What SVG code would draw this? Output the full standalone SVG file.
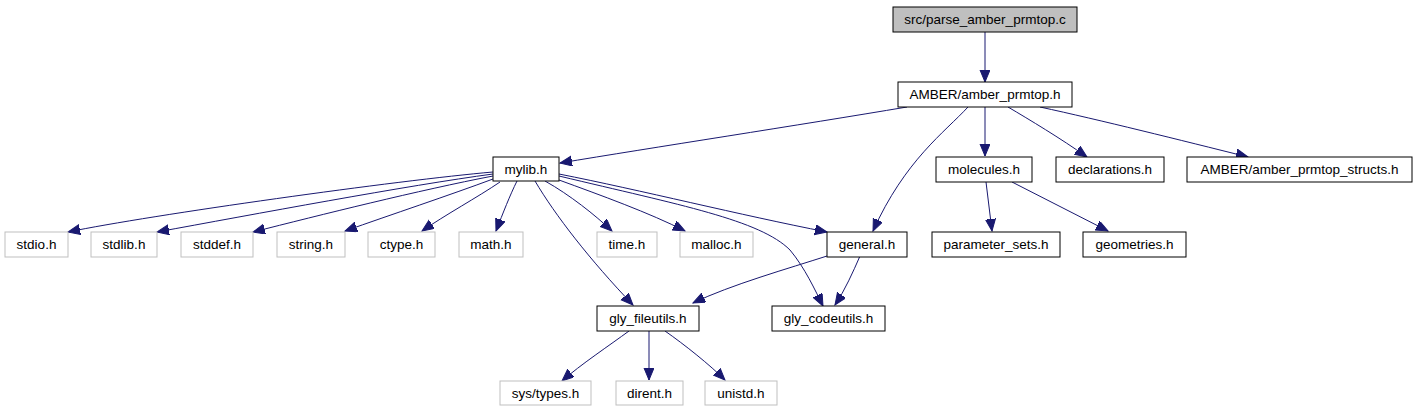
<svg xmlns="http://www.w3.org/2000/svg" width="1416" height="411" viewBox="0 0 1416 411">
<style>
.n rect{fill:#fff;stroke:#000;stroke-width:1}
.g rect{fill:#fff;stroke:#bfbfbf;stroke-width:1}
.r rect{fill:#bfbfbf;stroke:#000;stroke-width:1}
text{font-family:"Liberation Sans",Arial,sans-serif;font-size:13.5px;fill:#000;text-anchor:middle}
#edges path{fill:none;stroke:#191970;stroke-width:1;marker-end:url(#ah)}
</style>
<defs>
<marker id="ah" markerUnits="userSpaceOnUse" markerWidth="13" markerHeight="11" refX="12" refY="5" orient="auto">
<path d="M0,0 L12,5 L0,10 z" fill="#191970" stroke="#191970"/>
</marker>
</defs>
<rect width="1416" height="411" fill="#fff"/>
<g id="edges">
<path d="M985,32 L985,82"/>
<path d="M907,107 C800,125 650,148 560,163"/>
<path d="M968,107 C945,132 905,160 873,231"/>
<path d="M985,107 L985,156"/>
<path d="M1008,107 C1030,120 1060,138 1087,157"/>
<path d="M1040,107 C1100,120 1180,140 1248,157"/>
<path d="M493,172 C400,180 150,215 68,232"/>
<path d="M493,174 C410,185 250,215 157,232"/>
<path d="M493,176 C420,190 320,215 253,232"/>
<path d="M493,179 C450,195 390,215 345,231"/>
<path d="M500,182 C478,197 445,215 422,231"/>
<path d="M517,181 C510,195 503,213 496,231"/>
<path d="M545,181 C570,195 595,215 612,231"/>
<path d="M559,180 C600,195 650,213 685,231"/>
<path d="M559,174 C640,190 740,215 827,232"/>
<path d="M559,176 C680,205 760,220 790,250 C805,268 815,290 823,306"/>
<path d="M535,181 C555,215 590,260 633,305"/>
<path d="M827,256 C790,268 730,285 693,303"/>
<path d="M860,256 C853,272 845,290 835,305"/>
<path d="M986,182 L992,231"/>
<path d="M1012,182 L1108,231"/>
<path d="M629,331 C610,345 580,365 562,381"/>
<path d="M649,331 L649,380"/>
<path d="M665,331 C685,345 710,365 725,380"/>
</g>
<g id="n_parse" class="r"><rect x="893" y="7" width="184" height="25"/><text x="985" y="24">src/parse_amber_prmtop.c</text></g>
<g id="n_amber" class="n"><rect x="898" y="82" width="174" height="25"/><text x="985" y="99">AMBER/amber_prmtop.h</text></g>
<g id="n_mylib" class="n"><rect x="493" y="157" width="66" height="24"/><text x="526" y="174">mylib.h</text></g>
<g id="n_molecules" class="n"><rect x="936" y="157" width="96" height="25"/><text x="984" y="174">molecules.h</text></g>
<g id="n_decl" class="n"><rect x="1056" y="157" width="108" height="25"/><text x="1110" y="174">declarations.h</text></g>
<g id="n_structs" class="n"><rect x="1187" y="157" width="225" height="25"/><text x="1299.5" y="174">AMBER/amber_prmtop_structs.h</text></g>
<g id="n_stdio" class="g"><rect x="5" y="232" width="63" height="25"/><text x="36.5" y="249">stdio.h</text></g>
<g id="n_stdlib" class="g"><rect x="91" y="232" width="66" height="25"/><text x="124" y="249">stdlib.h</text></g>
<g id="n_stddef" class="g"><rect x="181" y="232" width="72" height="25"/><text x="217" y="249">stddef.h</text></g>
<g id="n_string" class="g"><rect x="277" y="232" width="68" height="25"/><text x="311" y="249">string.h</text></g>
<g id="n_ctype" class="g"><rect x="368" y="232" width="67" height="25"/><text x="401.5" y="249">ctype.h</text></g>
<g id="n_math" class="g"><rect x="459" y="232" width="64" height="25"/><text x="491" y="249">math.h</text></g>
<g id="n_time" class="g"><rect x="597" y="232" width="60" height="25"/><text x="627" y="249">time.h</text></g>
<g id="n_malloc" class="g"><rect x="680" y="232" width="73" height="25"/><text x="716.5" y="249">malloc.h</text></g>
<g id="n_general" class="n"><rect x="827" y="232" width="80" height="25"/><text x="867" y="249">general.h</text></g>
<g id="n_params" class="n"><rect x="932" y="232" width="128" height="25"/><text x="996" y="249">parameter_sets.h</text></g>
<g id="n_geom" class="n"><rect x="1083" y="232" width="103" height="25"/><text x="1134.5" y="249">geometries.h</text></g>
<g id="n_fileutils" class="n"><rect x="597" y="306" width="102" height="25"/><text x="648" y="323">gly_fileutils.h</text></g>
<g id="n_codeutils" class="n"><rect x="772" y="306" width="113" height="25"/><text x="828.5" y="323">gly_codeutils.h</text></g>
<g id="n_systypes" class="g"><rect x="500" y="381" width="91" height="24"/><text x="545.5" y="398">sys/types.h</text></g>
<g id="n_dirent" class="g"><rect x="616" y="381" width="67" height="24"/><text x="649.5" y="398">dirent.h</text></g>
<g id="n_unistd" class="g"><rect x="705" y="381" width="72" height="24"/><text x="741" y="398">unistd.h</text></g>
</svg>
